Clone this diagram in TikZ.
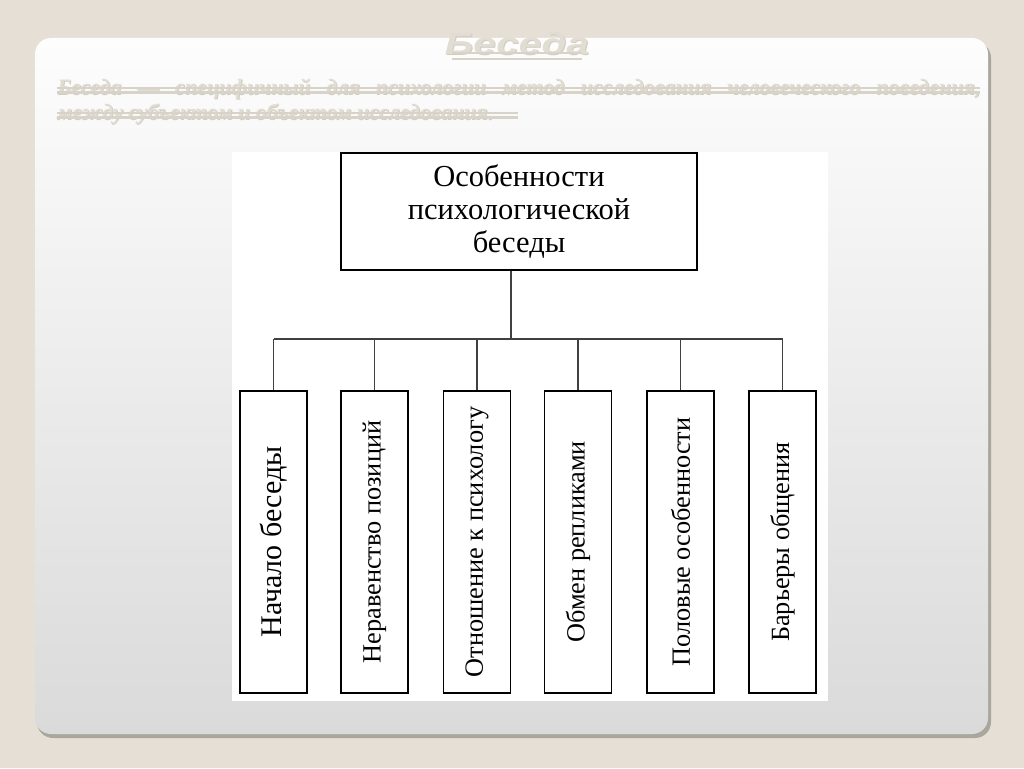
\documentclass[tikz,border=0pt]{standalone}
\usepackage{fontspec}
\setmainfont{Liberation Serif}
\newfontfamily\titlefont{Liberation Sans}
\definecolor{bgbeige}{HTML}{E5DFD5}
\definecolor{paneltop}{HTML}{FDFDFD}
\definecolor{panelbot}{HTML}{DADADA}
\definecolor{panelshadow}{HTML}{A9A79D}
\definecolor{ghost}{HTML}{E2DDD3}
\definecolor{ghostline}{HTML}{D8D3C9}
\definecolor{ghostdark}{HTML}{D2CCC1}
\begin{document}
\begin{tikzpicture}[x=1pt,y=-1pt,
  topbox/.style={draw=black,line width=1.3pt,fill=white,minimum width=356pt,minimum height=117pt,inner sep=0pt,align=center,font=\fontsize{30.5}{33}\selectfont},
  childbox/.style={draw=black,line width=1.3pt,fill=white,rotate=90,minimum width=302pt,minimum height=67pt,inner sep=0pt,font=\fontsize{26.3}{30}\selectfont},
  link/.style={draw=black!75,line width=1.1pt}]
\useasboundingbox (0,0) rectangle (1024,768);
\fill[bgbeige] (0,0) rectangle (1024,768);
% panel shadow and panel
\fill[panelshadow,rounded corners=16pt] (37,42) rectangle (991,738);
\shade[top color=paneltop,bottom color=panelbot,rounded corners=16pt] (35,38) rectangle (988,734);
% title (ghost text)
\node[text=ghostdark,font=\fontsize{31}{34}\selectfont\titlefont\bfseries\itshape] at (518,44.5) {\scalebox{1.3}[1]{Беседа}};
\node[text=ghost,font=\fontsize{31}{34}\selectfont\titlefont\bfseries\itshape] (title) at (517,43.5) {\scalebox{1.3}[1]{Беседа}};
\draw[ghostline,line width=1.2pt] (452,53) -- (582,53);
\draw[ghostline,line width=2.8pt] (452,59) -- (582,59);
% body text (ghost)
\node[text=ghostdark,anchor=north west,inner sep=0pt,font=\fontsize{22}{25}\selectfont\bfseries\itshape] at (58,79)
 {\parbox{923pt}{Беседа — специфичный для психологии метод исследования человеческого поведения,\linebreak
  между субъектом и объектом исследования.}};
\node[text=ghost,anchor=north west,inner sep=0pt,font=\fontsize{22}{25}\selectfont\bfseries\itshape] (body) at (57,78)
 {\parbox{923pt}{Беседа — специфичный для психологии метод исследования человеческого поведения,\linebreak
  между субъектом и объектом исследования.}};
\foreach \y/\xe in {88/980,113/518}{
  \draw[ghostline,line width=1.2pt] (57,\y) -- (\xe,\y);
  \draw[ghostline,line width=2.2pt] (57,\y+4.5) -- (\xe,\y+4.5);
}
% diagram backdrop
\fill[white] (232,152) rectangle (828,701);
% nodes
\node[topbox] (top) at (519,211.5) {Особенности\\психологической\\беседы};
\coordinate (hub) at (511,339);
\node[childbox,font=\fontsize{30}{34}\selectfont] (c1) at (273.5,542) {Начало беседы};
\node[childbox] (c2) at (374.5,542) {Неравенство позиций};
\node[childbox] (c3) at (477,542) {Отношение к психологу};
\node[childbox] (c4) at (578,542) {Обмен репликами};
\node[childbox] (c5) at (680.5,542) {Половые особенности};
\node[childbox] (c6) at (782.5,542) {Барьеры общения};
% connectors
\draw[link] (top.south -| hub) -- (hub);
\draw[link] (c1.east |- hub) -- (c6.east |- hub);
\foreach \c in {c1,c2,c3,c4,c5,c6}{
  \draw[link] (\c.east) -- (\c.east |- hub);
}
\end{tikzpicture}
\end{document}
